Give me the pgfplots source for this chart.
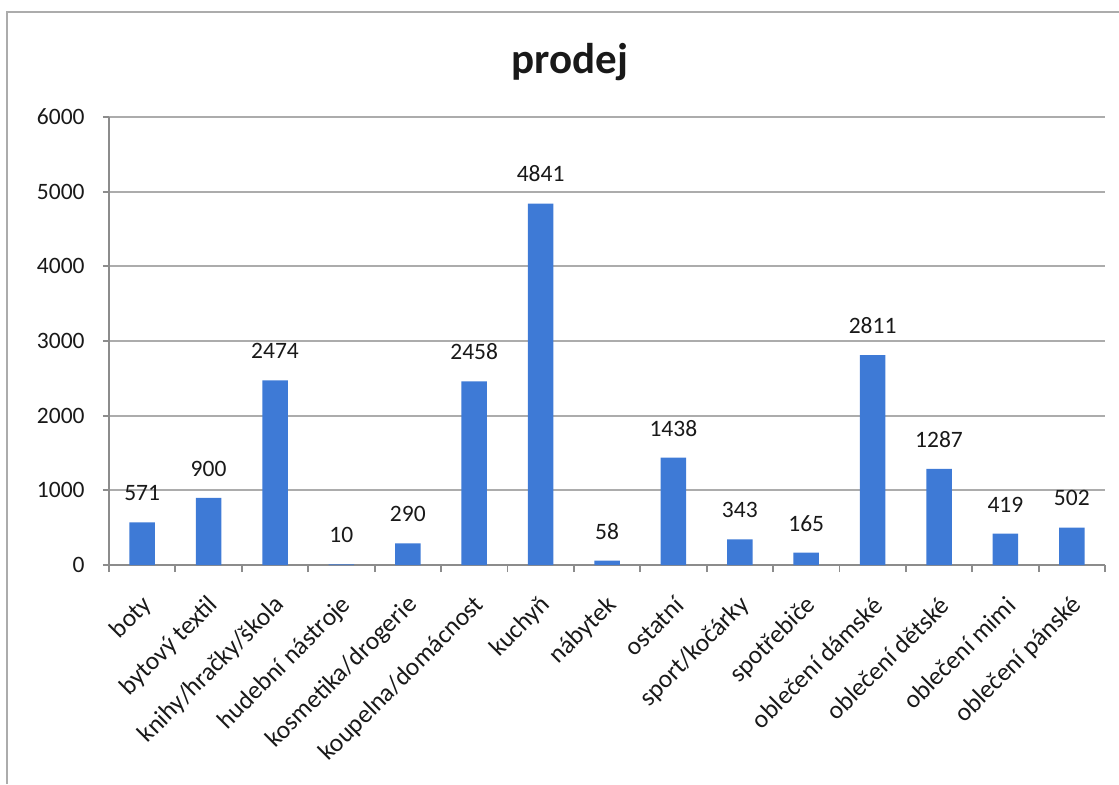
\documentclass[border=0pt]{standalone}
\usepackage{fontspec}
\setmainfont{Carlito}
\usepackage{pgfplots}
\pgfplotsset{compat=1.18}
\definecolor{barblue}{RGB}{62,122,214}
\definecolor{gridgray}{RGB}{172,172,172}
\definecolor{axisgray}{RGB}{140,140,140}
\definecolor{txt}{RGB}{25,25,25}
\newcommand{\lbl}{\fontsize{11.75}{14}\selectfont}
\newcommand{\catlbl}{\fontsize{12.75}{15}\selectfont}
\begin{document}
\begin{tikzpicture}
\useasboundingbox (0,0) rectangle (559.5pt,392pt);
\draw[gridgray, line width=1pt] (3.5pt,0) -- (3.5pt,386pt) -- (559.5pt,386pt);
\node[font=\bfseries\fontsize{21.5}{26}\selectfont, text=txt, anchor=base] at (285pt,355.25pt) {prodej};
\begin{axis}[
    at={(54.5pt,109.5pt)}, anchor=south west,
    scale only axis,
    width=498pt, height=224pt,
    xmin=-0.5, xmax=14.5,
    ymin=0, ymax=6000,
    ytick={0,1000,...,6000},
    xtick={0,...,14},
    xticklabels={boty, bytový textil, knihy/hračky/škola, hudební nástroje,
        kosmetika/drogerie, koupelna/domácnost, kuchyň, nábytek, ostatní,
        sport/kočárky, spotřebiče, oblečení dámské, oblečení dětské,
        oblečení mimi, oblečení pánské},
    minor xtick={-0.5,0.5,...,14.5},
    major x tick style={draw=none},
    minor tick length=3.5pt,
    major tick length=3pt,
    tick align=outside,
    axis lines*=left,
    axis line style={axisgray, line width=0.9pt},
    tick style={axisgray, line width=0.9pt},
    ymajorgrids,
    grid style={gridgray, line width=0.9pt},
    /pgf/number format/1000 sep={},
    /pgf/number format/assume math mode=true,
    ticklabel style={text=txt},
    yticklabel style={font=\lbl, inner sep=0pt, xshift=-9pt},
    xticklabel style={font=\catlbl, inner sep=0pt, yshift=-15pt, xshift=3pt, rotate=45, anchor=east},
    ybar, bar width=12.75pt,
    nodes near coords,
    every node near coord/.append style={font=\lbl, text=txt, anchor=south, inner sep=0pt, yshift=10.5pt},
]
\addplot[fill=barblue, draw=none] coordinates {
    (0,571) (1,900) (2,2474) (3,10) (4,290) (5,2458) (6,4841) (7,58)
    (8,1438) (9,343) (10,165) (11,2811) (12,1287) (13,419) (14,502)
};
\end{axis}
\end{tikzpicture}
\end{document}
